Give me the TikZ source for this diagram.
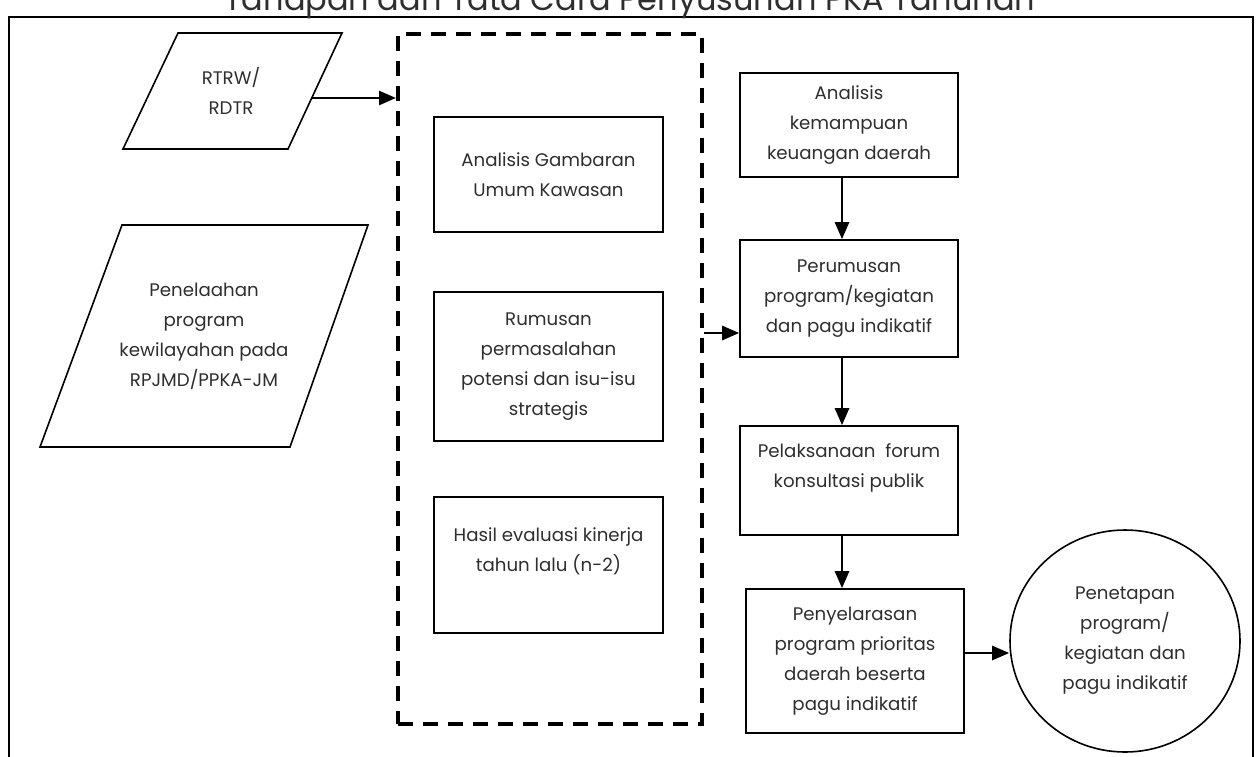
\documentclass[tikz,border=0pt]{standalone}
\usepackage{fontspec}
\setmainfont{Poppins}
\usetikzlibrary{arrows.meta,shapes.geometric}
\definecolor{txt}{HTML}{2E2E2E}
\tikzset{
  every node/.style={font=\fontsize{9.1}{15}\selectfont, text=txt, align=center, inner sep=0pt},
  stepbox/.style={draw=black, line width=0.8pt, rectangle, minimum width=114.5pt},
  rbox/.style={draw=black, line width=0.8pt, rectangle, minimum width=109pt},
  arr/.style={draw=black, line width=1.3pt, -{Triangle[length=8.5pt,width=7pt]}},
  groupbox/.style={draw=black, line width=2pt, dash pattern=on 7.5pt off 5pt, rectangle, minimum width=152pt, minimum height=345pt},
  para/.style={draw=black, line width=0.8pt, line join=miter},
  frame/.style={draw=black, line width=1.3pt}
}
\begin{document}
\begin{tikzpicture}[x=0.5pt, y=-0.5pt]
\useasboundingbox (0,0) rectangle (1258,756);
% frame and title
\draw[frame] (9,800) -- (9,17) -- (1253,17) -- (1253,800);
\node[anchor=base, font=\fontsize{16}{18}\selectfont] (title) at (630,10) {Tahapan dan Tata Cara Penyusunan PKA Tahunan};
% parallelogram RTRW
\draw[para] (178,33) -- (342,33) -- (288,149) -- (123,149) -- cycle;
\node (rtrw) at (231,91) {RTRW/\\RDTR};
\coordinate (rtrwE) at (312,98);
% parallelogram Penelaahan
\draw[para] (122,225) -- (368,225) -- (290,447) -- (40,447) -- cycle;
\node (pen) at (204,336) {Penelaahan\\program\\kewilayahan pada\\RPJMD/PPKA-JM};
% dashed group
\node[groupbox] (grp) at (550,379) {};
\node[stepbox, minimum height=57.5pt] (A) at (548.5,174.5) {Analisis Gambaran\\Umum Kawasan};
\node[stepbox, minimum height=74.5pt] (B) at (548.5,366.5) {Rumusan\\permasalahan\\potensi dan isu-isu\\strategis};
\node[stepbox, minimum height=68pt] (C) at (548.5,565) {Hasil evaluasi kinerja\\tahun lalu (n-2)\\ \mbox{}};
% right column
\node[rbox, minimum height=52pt] (D) at (849,125) {Analisis\\kemampuan\\keuangan daerah};
\node[rbox, minimum height=58.5pt] (E) at (849,298.5) {Perumusan\\program/kegiatan\\dan pagu indikatif};
\node[rbox, minimum height=54.5pt] (F) at (849,480.5) {Pelaksanaan~ forum\\konsultasi publik\\ \mbox{}};
\node[rbox, minimum height=72pt] (G) at (855,661) {Penyelarasan\\program prioritas\\daerah beserta\\pagu indikatif};
\node[draw=black, line width=0.8pt, ellipse, minimum width=115pt, minimum height=111pt] (H) at (1125,641) {Penetapan\\program/\\kegiatan dan\\pagu indikatif};
% connectors
\draw[arr] (rtrwE) -- (rtrwE -| grp.west);
\draw[arr] ([yshift=-17.25pt]E.west -| grp.east) -- ([yshift=-17.25pt]E.west);
\draw[arr] ([xshift=-3.5pt]D.south) -- ([xshift=-3.5pt]D.south |- E.north);
\draw[arr] ([xshift=-3.5pt]E.south) -- ([xshift=-3.5pt]E.south |- F.north);
\draw[arr] ([xshift=-3.5pt]F.south) -- ([xshift=-3.5pt]F.south |- G.north);
\draw[arr] ([yshift=4pt]G.east) -- ([yshift=4pt]G.east -| H.west);
\end{tikzpicture}
\end{document}
